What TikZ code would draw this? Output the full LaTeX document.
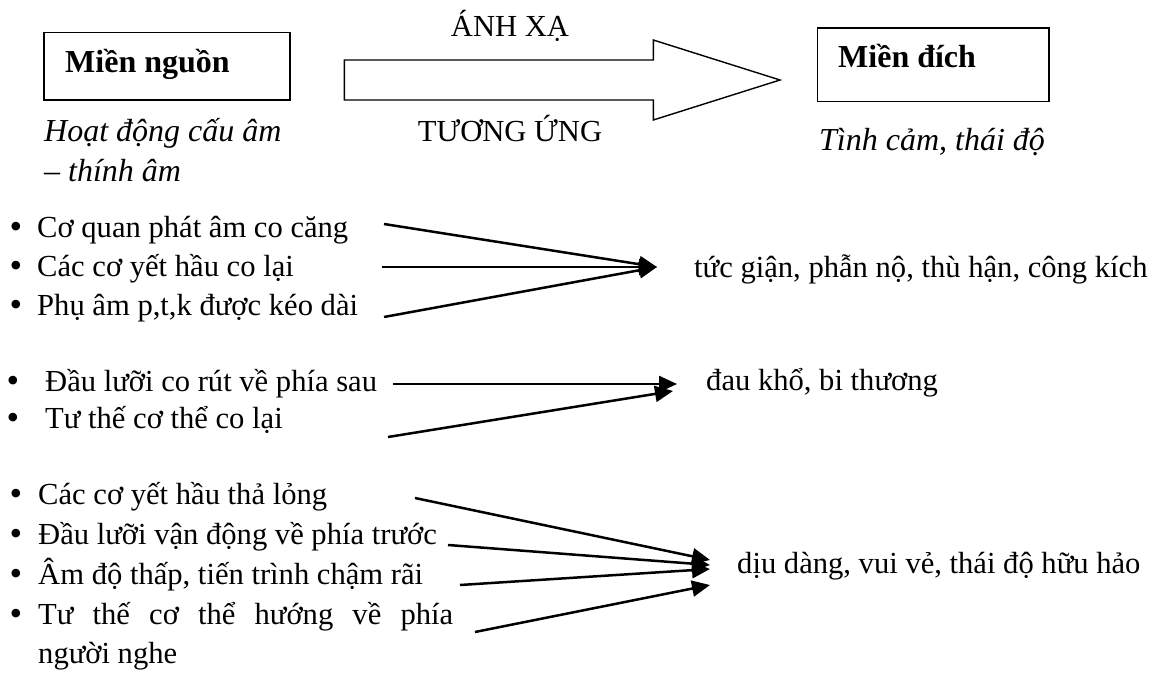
\documentclass[tikz,border=0pt]{standalone}
\usepackage{fontspec}
\setmainfont{Liberation Serif}
\usetikzlibrary{arrows.meta}
\begin{document}
\begin{tikzpicture}[x=1pt,y=-1pt,
  txt/.style={anchor=base west,inner sep=0pt,font=\fontsize{30.6}{36}\selectfont},
  ctxt/.style={anchor=base,inner sep=0pt,font=\fontsize{30.6}{36}\selectfont},
  itxt/.style={anchor=base west,inner sep=0pt,font=\fontsize{32}{38}\selectfont\itshape},
  btxt/.style={anchor=base west,inner sep=0pt,font=\fontsize{32}{38}\selectfont\bfseries},
  bul/.style={anchor=base,inner sep=0pt,font=\fontsize{36}{36}\selectfont},
  dombox/.style={draw,line width=1.6pt,inner sep=0pt,anchor=north west},
  conn/.style={line width=2.5pt,-{Triangle[length=18pt,width=16pt]}},
  bigarrow/.style={draw,line width=1.4pt,line join=miter},
]
\useasboundingbox (0,0) rectangle (1160,680);

% domain boxes
\node[dombox,minimum width=245.7pt,minimum height=67.3pt] (src) at (43.3,31.7) {};
\node[btxt] (srct) at (65,72) {Miền nguồn};
\node[dombox,minimum width=231.6pt,minimum height=73.4pt] (dst) at (816.7,27.3) {};
\node[btxt] (dstt) at (838,67) {Miền đích};
\node[itxt] (src1) at (44,141) {Hoạt động cấu âm};
\node[itxt] (src2) at (44,181) {– thính âm};
\node[itxt] (dst1) at (819,150) {Tình cảm, thái độ};

% big mapping arrow
\draw[bigarrow] (344.3,60) -- (653.3,60) -- (653.3,40) -- (780,80) -- (653.3,120) -- (653.3,100) -- (344.3,100) -- cycle;
\node[ctxt] (map1) at (510,36) {ÁNH XẠ};
\node[ctxt] (map2) at (510,141) {TƯƠNG ỨNG};

% group 1
\node[bul] (b11) at (16,238) {•};
\node[txt] (l11) at (37,237) {Cơ quan phát âm co căng};
\node[bul] (b12) at (16,277) {•};
\node[txt] (l12) at (37,276) {Các cơ yết hầu co lại};
\node[bul] (b13) at (16,316) {•};
\node[txt] (l13) at (37,315) {Phụ âm p,t,k được kéo dài};
\node[txt] (r1) at (694,277) {tức giận, phẫn nộ, thù hận, công kích};
\coordinate (s11) at (384,224);
\coordinate (s12) at (382,267);
\coordinate (s13) at (384,317);
\coordinate (t1) at (657,267);
\draw[conn] (s11) -- (t1);
\draw[conn] (s12) -- (t1);
\draw[conn] (s13) -- (t1);

% group 2
\node[bul] (b21) at (13,392) {•};
\node[txt] (l21) at (45,391) {Đầu lưỡi co rút về phía sau};
\node[bul] (b22) at (13,429) {•};
\node[txt] (l22) at (45,428) {Tư thế cơ thể co lại};
\node[txt] (r2) at (706,390) {đau khổ, bi thương};
\coordinate (s21) at (393,384);
\coordinate (t21) at (677,384);
\coordinate (s22) at (388,437);
\coordinate (t22) at (673,391);
\draw[conn] (s21) -- (t21);
\draw[conn] (s22) -- (t22);

% group 3
\node[bul] (b31) at (16,505) {•};
\node[txt] (l31) at (38,504) {Các cơ yết hầu thả lỏng};
\node[bul] (b32) at (16,545) {•};
\node[txt] (l32) at (38,544) {Đầu lưỡi vận động về phía trước};
\node[bul] (b33) at (16,585) {•};
\node[txt] (l33) at (38,584) {Âm độ thấp, tiến trình chậm rãi};
\node[bul] (b34) at (16,625) {•};
\node[txt] (l34) at (38,624) {\makebox[415pt][s]{Tư thế cơ thể hướng về phía}};
\node[txt] (l35) at (38,663) {người nghe};
\node[txt] (r3) at (737,573) {dịu dàng, vui vẻ, thái độ hữu hảo};
\coordinate (s31) at (415,498);
\coordinate (t31) at (710,560);
\coordinate (s32) at (448,545);
\coordinate (t32) at (710,565);
\coordinate (s33) at (460,585);
\coordinate (t33) at (710,569);
\coordinate (s34) at (475,632);
\coordinate (t34) at (710,585);
\draw[conn] (s31) -- (t31);
\draw[conn] (s32) -- (t32);
\draw[conn] (s33) -- (t33);
\draw[conn] (s34) -- (t34);
\end{tikzpicture}
\end{document}
